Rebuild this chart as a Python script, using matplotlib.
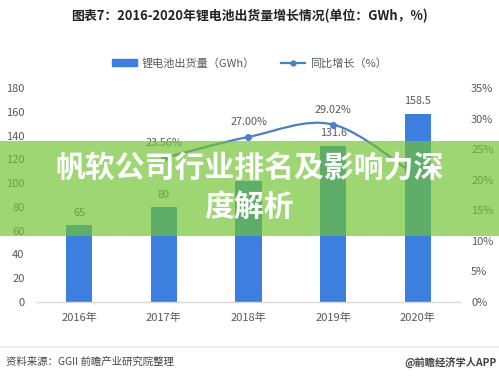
import numpy as np
import matplotlib
matplotlib.use("Agg")
import matplotlib.pyplot as plt
from matplotlib.path import Path
from matplotlib.patches import PathPatch, Rectangle
from matplotlib.lines import Line2D

plt.rcParams['font.family'] = ['Noto Sans CJK SC', 'DejaVu Sans']

# Data
years = ['2016年', '2017年', '2018年', '2019年', '2020年']
shipments = [65, 80, 102, 131.6, 158.5]
growth = [np.nan, 23.56, 27.00, 29.02, 20.44]
# labels hidden behind the banner in the reference are left blank
growth_labels = ['', '23.56%', '27.00%', '29.02%', '']
bar_labels = ['65', '80', '', '131.6', '158.5']

left_ticks = list(range(0, 181, 20))
right_ticks = list(range(0, 36, 5))

bar_color = '#3d7fdf'
line_color = '#4c7fc6'
text_gray = '#595959'

fig = plt.figure(figsize=(4.99, 3.78), dpi=100)
fig.patch.set_facecolor('white')

ax = fig.add_axes([37 / 499, 1 - 302 / 378, 423 / 499, 214 / 378])
x = np.arange(len(years))
ax.bar(x, shipments, width=0.31, color=bar_color, zorder=2)
for xi, v, lab in zip(x, shipments, bar_labels):
    if lab:
        ax.text(xi, v + 6, lab, ha='center', va='bottom', fontsize=7.8, color=text_gray)

ax.set_xlim(-0.5, len(years) - 0.5)
ax.set_ylim(0, 180)
ax.set_yticks(left_ticks)
ax.set_xticks(x)
ax.set_xticklabels(years)
ax.tick_params(axis='both', length=0, labelsize=8, labelcolor=text_gray)
ax.tick_params(axis='y', pad=9)
ax.tick_params(axis='x', pad=8)
for s in ['top', 'right', 'left']:
    ax.spines[s].set_visible(False)
ax.spines['bottom'].set_color('#d9d9d9')
ax.spines['bottom'].set_linewidth(1.0)

# right axis: growth line, smoothed with Catmull-Rom bezier segments
ax2 = ax.twinx()
ax2.set_ylim(0, 35)
ax2.set_yticks(right_ticks)
ax2.set_yticklabels([f'{t}%' for t in right_ticks])
ax2.tick_params(axis='y', length=0, labelsize=8, labelcolor=text_gray, pad=8)
for s in ['top', 'right', 'left', 'bottom']:
    ax2.spines[s].set_visible(False)

pts = [(xi, g) for xi, g in zip(x, growth) if not np.isnan(g)]
verts = [pts[0]]
codes = [Path.MOVETO]
for i in range(len(pts) - 1):
    p0 = np.array(pts[i - 1] if i > 0 else pts[i])
    p1 = np.array(pts[i])
    p2 = np.array(pts[i + 1])
    p3 = np.array(pts[i + 2] if i + 2 < len(pts) else pts[i + 1])
    c1 = p1 + (p2 - p0) / 6
    c2 = p2 - (p3 - p1) / 6
    verts += [tuple(c1), tuple(c2), tuple(p2)]
    codes += [Path.CURVE4] * 3
ax2.add_patch(PathPatch(Path(verts, codes), fill=False, edgecolor=line_color, lw=1.6, zorder=3))
px, py = zip(*pts)
ax2.plot(px, py, 'o', color=line_color, ms=4, zorder=4)
for xi, g, lab in zip(x, growth, growth_labels):
    if lab:
        ax2.text(xi, g + 1.6, lab, ha='center', va='bottom', fontsize=7.8, color=text_gray)

# title
fig.text(0.5, 1 - 16 / 378, '图表7：2016-2020年锂电池出货量增长情况(单位：GWh，%)',
         ha='center', va='center', fontsize=9.3, fontweight='bold', color='#222222')

# legend
handles = [Rectangle((0, 0), 1, 1, color=bar_color),
           Line2D([0], [0], color=line_color, lw=1.6, marker='o', ms=3.5)]
fig.legend(handles, ['锂电池出货量（GWh）', '同比增长（%）'], loc='center',
           bbox_to_anchor=(0.5, 1 - 63 / 378), ncol=2, frameon=False, fontsize=8,
           labelcolor=text_gray, handlelength=2.2, handleheight=0.6,
           handletextpad=0.4, columnspacing=2.4)

# footer
fig.add_artist(Line2D([0, 1], [1 - 347 / 378] * 2, color='#eeeeee', lw=1.2))
fig.text(6 / 499, 1 - 362 / 378, '资料来源：GGII 前瞻产业研究院整理',
         ha='left', va='center', fontsize=7.5, color='#444444')
fig.text(497 / 499, 1 - 362 / 378, '@前瞻经济学人APP',
         ha='right', va='center', fontsize=7.4, color='#444444', fontweight='bold')

# green banner overlay
fig.add_artist(Rectangle((0, 1 - 236 / 378), 1, 95 / 378, transform=fig.transFigure,
                         facecolor=(111 / 255, 195 / 255, 48 / 255), alpha=0.68,
                         edgecolor='none', zorder=10))
fig.text(0.5, 1 - 168 / 378, '帆软公司行业排名及影响力深', ha='center', va='center',
         fontsize=21.5, fontweight='bold', color='white', zorder=11)
fig.text(0.5, 1 - 207 / 378, '度解析', ha='center', va='center',
         fontsize=21.5, fontweight='bold', color='white', zorder=11)

fig.savefig('out.png', dpi=100)
